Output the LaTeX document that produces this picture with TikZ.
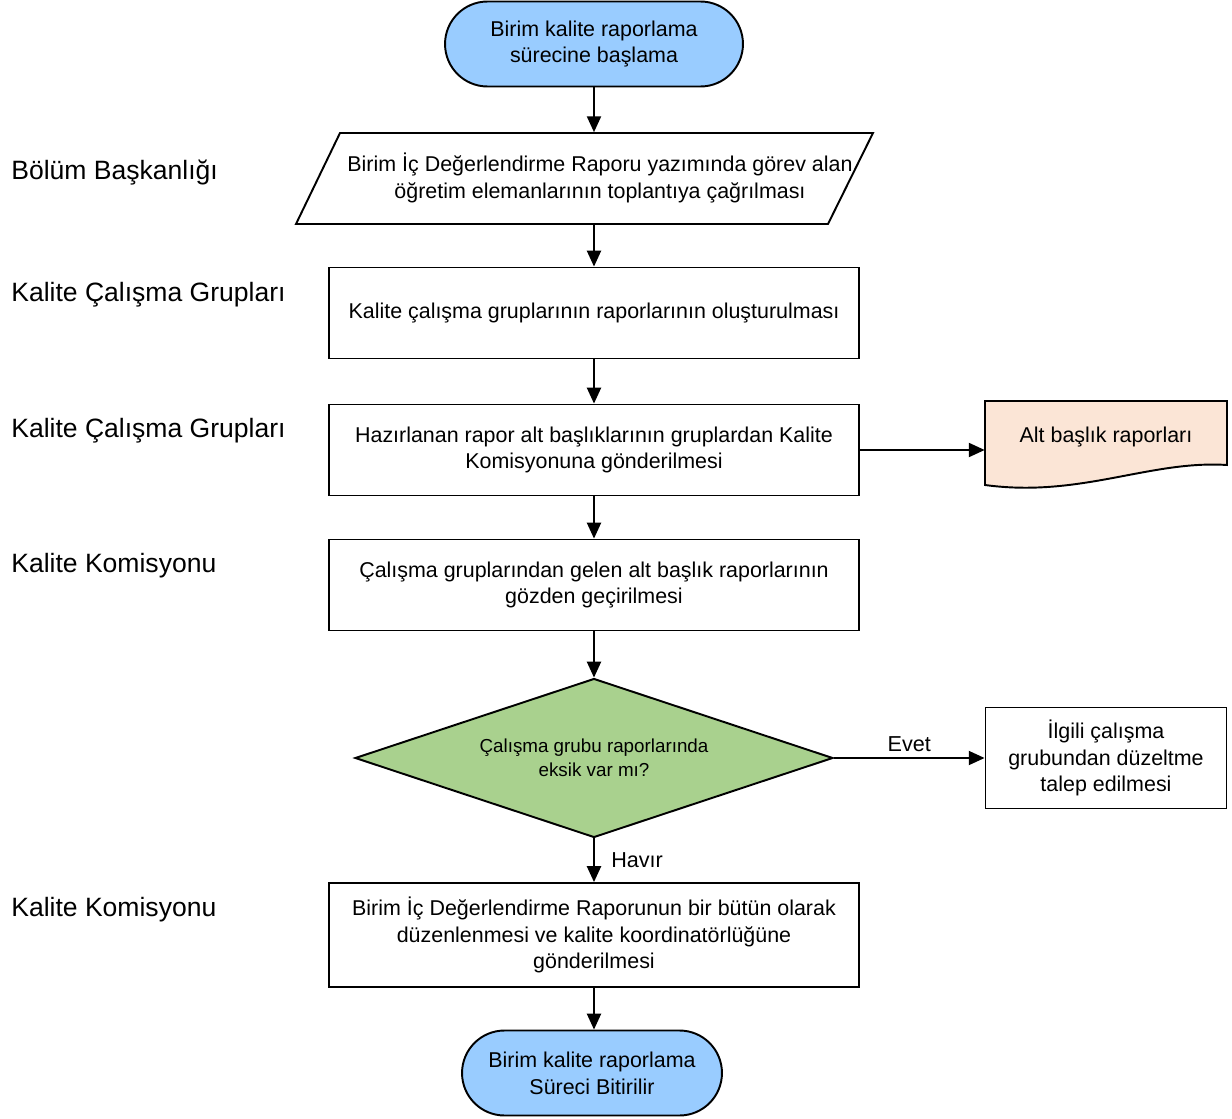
\documentclass[tikz,border=0pt]{standalone}
\usepackage{fontspec}
\setmainfont{Liberation Sans}
\usetikzlibrary{arrows.meta,shapes.geometric}
\definecolor{termblue}{HTML}{99CCFF}
\definecolor{docpink}{HTML}{FBE5D6}
\definecolor{decgreen}{HTML}{A9D18E}
\tikzset{
    boxtext/.style={font=\fontsize{12.2}{15.3}\selectfont, align=center},
    terminal/.style={boxtext, draw, line width=1.1pt, fill=termblue, rounded corners=0.85cm, minimum height=1.7cm, inner sep=0pt},
    stepbox/.style={boxtext, draw, line width=1.1pt, minimum width=10.6cm, minimum height=1.82cm, inner sep=0pt},
    decision/.style={draw, line width=1.1pt, fill=decgreen, diamond, aspect=3, minimum width=9.56cm, minimum height=3.18cm, inner sep=0pt, align=center, font=\fontsize{10.7}{13.6}\selectfont},
    lane/.style={font=\fontsize{15.1}{18}\selectfont, anchor=west, inner sep=0pt},
    arr/.style={-{Triangle[length=9pt, width=8pt]}, line width=1pt},
    edgelabel/.style={font=\fontsize{12.3}{14}\selectfont},
}
\begin{document}
\begin{tikzpicture}[x=0.02cm, y=-0.02cm]
                \useasboundingbox (0,0) rectangle (1232,1119);
            
                \node[terminal, minimum width=5.96cm] (start) at (594,44) {Birim kalite raporlama\\sürecine başlama};
                \draw[line width=1.1pt] (340,133) -- (873,133) -- (828,224) -- (296,224) -- cycle;
                \node[boxtext, minimum width=10.66cm, minimum height=1.82cm, inner sep=0pt] (call) at (600,178) {Birim İç Değerlendirme Raporu yazımında görev alan\\öğretim elemanlarının toplantıya çağrılması};
                \node[stepbox] (groups) at (594,313) {Kalite çalışma gruplarının raporlarının oluşturulması};
                \node[stepbox] (send) at (594,450) {Hazırlanan rapor alt başlıklarının gruplardan Kalite\\Komisyonuna gönderilmesi};
                \node[stepbox] (review) at (594,585) {Çalışma gruplarından gelen alt başlık raporlarının\\gözden geçirilmesi};
                \node[decision] (check) at (594,758) {Çalışma grubu raporlarında\\eksik var mı?};
                \node[stepbox, minimum height=2.08cm] (merge) at (594,935) {Birim İç Değerlendirme Raporunun bir bütün olarak\\düzenlenmesi ve kalite koordinatörlüğüne\\gönderilmesi};
                \node[terminal, minimum width=5.2cm] (finish) at (592,1073) {Birim kalite raporlama\\Süreci Bitirilir};
            
                \fill[docpink] (985,401) -- (1227,401) -- (1227,465) .. controls (1150,460) and (1080,498) .. (985,485) -- cycle;
                \draw[line width=1.1pt] (985,401) -- (1227,401) -- (1227,465) .. controls (1150,460) and (1080,498) .. (985,485) -- cycle;
                \node[boxtext, minimum width=4.84cm, inner sep=0pt] (subrep) at (1106,437) {Alt başlık raporları};
                \node[boxtext, draw, line width=1.1pt, minimum width=4.82cm, minimum height=2.02cm, inner sep=0pt, font=\fontsize{12.2}{15}\selectfont] (fix) at (1106,758) {İlgili çalışma\\grubundan düzeltme\\talep edilmesi};
            
                \node[lane] (lane1) at (11,173) {Bölüm Başkanlığı};
                \node[lane] (lane2) at (11,295) {Kalite Çalışma Grupları};
                \node[lane] (lane3) at (11,431) {Kalite Çalışma Grupları};
                \node[lane] (lane4) at (11,566) {Kalite Komisyonu};
                \node[lane] (lane5) at (11,910) {Kalite Komisyonu};
            
                \draw[arr] (start.south) -- (start.south |- call.north);
                \draw[arr] (groups.north |- call.south) -- (groups.north);
                \draw[arr] (groups.south) -- (send.north);
                \draw[arr] (send.east) -- (send.east -| subrep.west);
                \draw[arr] (send.south) -- (review.north);
                \draw[arr] (review.south) -- (check.north);
                \draw[arr] (check.east) -- (fix.west) node [midway, above, edgelabel] {Evet};
                \draw[arr] (check.south) -- (merge.north) node [midway, right=6pt, edgelabel] {Havır};
                \draw[arr] (merge.south) -- (merge.south |- finish.north);
            \end{tikzpicture}
\end{document}
